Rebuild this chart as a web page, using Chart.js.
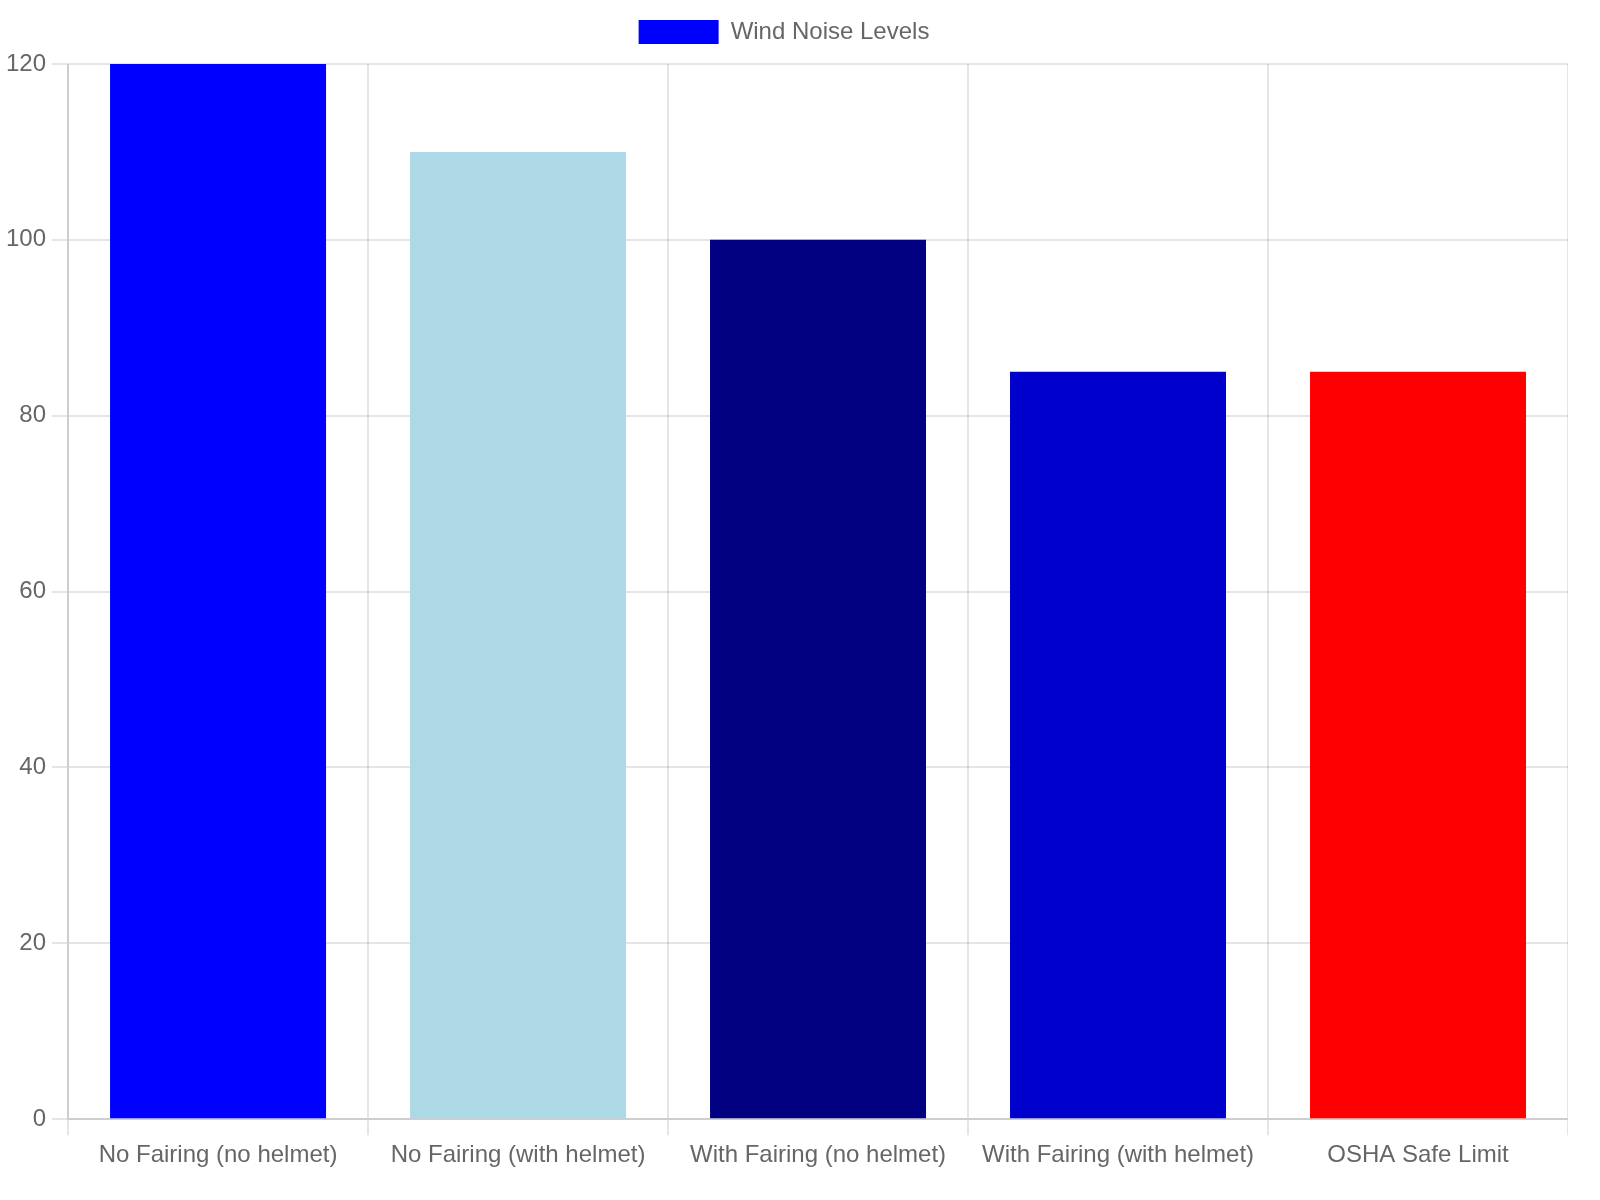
<!DOCTYPE html>
<html><head><meta charset="utf-8">
<script src="https://cdn.jsdelivr.net/npm/chart.js@4"></script>
<style>html,body{margin:0;padding:0;background:#fff}#wrap{position:absolute;left:0;top:0;width:784px;height:588px;transform:scale(2);transform-origin:0 0}</style>
</head><body><div id="wrap"><canvas id="c"></canvas></div>
<script>
const categories = ["No Fairing (no helmet)","No Fairing (with helmet)","With Fairing (no helmet)","With Fairing (with helmet)","OSHA Safe Limit"];
const noiseValues = [120,110,100,85,85];
const barColors = ["#0000FF","#ADD8E6","#000080","#0000CD","#FF0000"];
Chart.defaults.font.family = "'Liberation Sans', Arial, sans-serif";
new Chart(document.getElementById('c'), {
  type: 'bar',
  data: { labels: categories, datasets: [{ label: 'Wind Noise Levels', data: noiseValues, backgroundColor: barColors }] },
  options: {
    responsive: true, maintainAspectRatio: false, animation: false, devicePixelRatio: 2,
    plugins: { legend: { labels: { color: '#666' } } },
    scales: {
      y: { beginAtZero: true, max: 120, ticks: { stepSize: 20, color: '#666' } },
      x: { ticks: { color: '#666' } }
    }
  }
});
</script></body></html>
